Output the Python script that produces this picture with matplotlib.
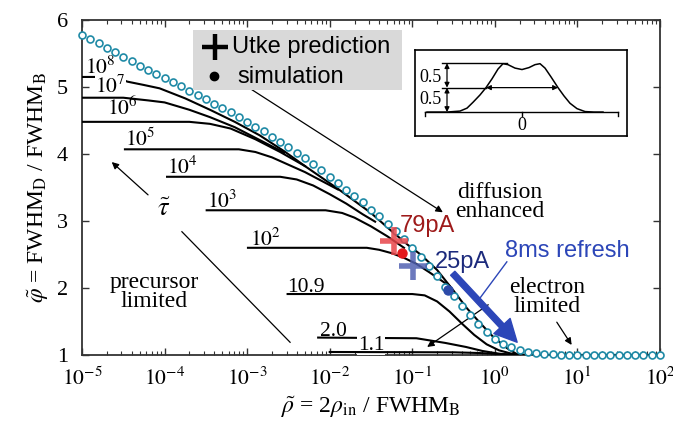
import numpy as np
import matplotlib
matplotlib.use("Agg")
import matplotlib.pyplot as plt
from matplotlib.patches import Rectangle
from matplotlib.ticker import FuncFormatter

plt.rcParams['font.family'] = ['Liberation Serif', 'DejaVu Serif']
plt.rcParams['mathtext.fontset'] = 'stix'

# ---- data (x given as log10 of rho) ----
# master curve (open circles), one point every 0.1 decade from 1e-5 to 1e2
circ_lx = np.round(np.arange(-5.0, 2.01, 0.1), 1)
circ_phi = [5.78, 5.71, 5.65, 5.58, 5.52, 5.45, 5.39, 5.32, 5.26, 5.19,
            5.13, 5.07, 5.01, 4.94, 4.88, 4.82, 4.75, 4.69, 4.62, 4.55,
            4.48, 4.41, 4.34, 4.26, 4.18, 4.10, 4.02, 3.94, 3.85, 3.76,
            3.66, 3.57, 3.47, 3.38, 3.28, 3.17, 3.07, 2.96, 2.85, 2.73,
            2.60, 2.47, 2.33, 2.18, 2.02, 1.88, 1.73, 1.59, 1.46, 1.34,
            1.24, 1.17, 1.12, 1.08, 1.05, 1.03, 1.02, 1.01, 1.00, 1.00,
            1.00, 1.00, 1.00, 1.00, 1.00, 1.00, 1.00, 1.00, 1.00, 1.00,
            1.00]

# tau curves (black)
t8_lx = [-5.0, -4.6, -4.45, -4.25, -4.06, -3.75, -3.45, -3.15, -2.85, -2.55,
         -2.3, -2.1, -1.9, -1.7, -1.5, -1.27, -1.05, -0.9, -0.7, -0.5,
         -0.34, -0.18, -0.02, 0.15, 0.27, 0.4, 2.0]
t8_phi = [5.15, 5.15, 5.08, 5.03, 4.98, 4.83, 4.66, 4.48, 4.28, 4.04,
          3.82, 3.65, 3.48, 3.30, 3.12, 2.87, 2.64, 2.50, 2.27, 1.96,
          1.70, 1.48, 1.27, 1.10, 1.01, 1.00, 1.00]
t7_lx = [-5.0, -4.5, -4.2, -4.0, -3.7, -3.45, -3.15, -2.85, -2.55]
t7_phi = [4.84, 4.84, 4.80, 4.77, 4.66, 4.55, 4.40, 4.21, 4.02]
t6_lx = [-5.0, -3.7, -3.45, -3.2, -2.9, -2.6, -2.3]
t6_phi = [4.48, 4.48, 4.45, 4.38, 4.22, 4.03, 3.82]
t5_lx = [-4.48, -3.1, -2.9, -2.7, -2.5, -2.3, -2.1, -1.9]
t5_phi = [4.07, 4.07, 4.03, 3.95, 3.84, 3.73, 3.60, 3.47]
t4_lx = [-3.97, -2.6, -2.4, -2.2, -2.0, -1.8, -1.6, -1.45]
t4_phi = [3.66, 3.66, 3.62, 3.53, 3.40, 3.26, 3.10, 2.99]
t3_lx = [-3.49, -2.05, -1.85, -1.7, -1.5, -1.3, -1.1]
t3_phi = [3.16, 3.16, 3.12, 3.05, 2.92, 2.77, 2.60]
t2_lx = [-2.99, -1.55, -1.4, -1.25, -1.1, -0.95, -0.8, -0.55]
t2_phi = [2.60, 2.60, 2.57, 2.52, 2.45, 2.36, 2.24, 2.03]
t109_lx = [-2.51, -1.0, -0.85, -0.7, -0.55, -0.4, -0.25, -0.1, 0.05, 0.2, 0.35]
t109_phi = [1.91, 1.91, 1.89, 1.80, 1.65, 1.47, 1.30, 1.16, 1.07, 1.02, 1.00]
t20_lx = [-2.14, -0.95, -0.8, -0.6, -0.35, -0.15, 0.05, 0.25]
t20_phi = [1.26, 1.25, 1.22, 1.18, 1.12, 1.06, 1.02, 1.00]
t11_lx = [-2.0, -0.5, -0.2, 0.1, 0.3]
t11_phi = [1.045, 1.04, 1.03, 1.01, 1.00]

tau_labels = [r'$10^8$', r'$10^7$', r'$10^6$', r'$10^5$', r'$10^4$',
              r'$10^3$', r'$10^2$', '10.9', '2.0', '1.1']
tau_label_lx = [-4.96, -4.84, -4.70, -4.48, -3.97, -3.49, -2.97, -2.51, -2.12, -1.66]
tau_label_phi = [5.20, 4.91, 4.58, 4.12, 3.70, 3.20, 2.63, 1.94, 1.29, 1.075]
tau_label_masked = [False, True, False, False, False, False, False, False, False, True]

# measured points
cross_lx = [-1.22, -0.99]
cross_phi = [2.70, 2.33]
dot_lx = [-1.12, -0.57]
dot_phi = [2.52, 1.97]
cross_colors = ['#e8454a', '#5262b2']
dot_colors = ['#e31a1c', '#2c4aa8']

# inset beam profile
prof_x = [-0.95, -0.75, -0.62, -0.55, -0.49, -0.42, -0.36, -0.30, -0.24, -0.19,
          -0.14, -0.07, 0.0, 0.07, 0.13, 0.18, 0.23, 0.29, 0.36, 0.42,
          0.48, 0.55, 0.63, 0.72, 0.81]
prof_y = [0.0, 0.0, 0.02, 0.08, 0.20, 0.35, 0.50, 0.68, 0.88, 0.99,
          0.97, 0.90, 0.87, 0.91, 0.97, 0.99, 0.90, 0.72, 0.50, 0.33,
          0.18, 0.07, 0.01, 0.0, 0.0]

# ---- figure ----
fig = plt.figure(figsize=(6.73, 4.24), dpi=100)
ax = fig.add_axes([82 / 673, 69 / 424, 578 / 673, 335 / 424])
ax.set_xscale('log')

# 10^8 and 2.0 curves run under a label (10^7 / 1.1) -> draw them below the label boxes
curves = [(t8_lx, t8_phi, 3), (t7_lx, t7_phi, 4.5), (t6_lx, t6_phi, 4.5),
          (t5_lx, t5_phi, 4.5), (t4_lx, t4_phi, 4.5), (t3_lx, t3_phi, 4.5),
          (t2_lx, t2_phi, 4.5), (t109_lx, t109_phi, 4.5), (t20_lx, t20_phi, 3),
          (t11_lx, t11_phi, 4.5)]
for lx, ph, z in curves:
    ax.plot(10 ** np.array(lx), ph, color='k', lw=1.5, zorder=z)

for lab, lx, ph, m in zip(tau_labels, tau_label_lx, tau_label_phi, tau_label_masked):
    bb = dict(facecolor='white', edgecolor='none', pad=0.3) if m else None
    ax.text(10 ** lx, ph, lab, fontsize=15.5, ha='left', va='baseline', zorder=4,
            bbox=bb)

ax.plot(10 ** circ_lx, circ_phi, 'o', ms=5, mfc='white', mec='#1f8aa6',
        mew=1.2, ls='none', zorder=5, clip_on=False)

for lx, ph, c in zip(cross_lx, cross_phi, cross_colors):
    ax.plot(10 ** lx, ph, '+', ms=20, mew=4, color=c, alpha=0.85, zorder=6)
for lx, ph, c in zip(dot_lx, dot_phi, dot_colors):
    ax.plot(10 ** lx, ph, 'o', ms=6.5, color=c, zorder=7)

# annotations
arr = dict(arrowstyle='-|>', color='k', lw=0.9, mutation_scale=10, shrinkA=0, shrinkB=0)
ax.annotate('', xy=(10 ** -4.64, 3.88), xytext=(10 ** -4.20, 3.39), arrowprops=arr)
ax.plot([10 ** -3.79, 10 ** -2.48], [2.84, 1.19], color='k', lw=0.9)
ax.text(10 ** -4.01, 3.16, r'$\tilde{\tau}$', fontsize=19, ha='center', va='center')
ax.annotate('', xy=(10 ** -0.63, 3.13), xytext=(10 ** -3.12, 5.10), arrowprops=arr)
ax.annotate('', xy=(10 ** -0.82, 1.12), xytext=(10 ** -0.08, 1.75), arrowprops=arr)
ax.annotate('', xy=(10 ** 0.93, 1.15), xytext=(10 ** 0.75, 1.49), arrowprops=arr)

ax.text(10 ** 0.06, 3.28, 'diffusion\nenhanced', fontsize=17, ha='center',
        va='center', linespacing=0.9)
ax.text(10 ** -4.13, 1.94, 'precursor\nlimited', fontsize=17, ha='center',
        va='center', linespacing=0.9)
ax.text(10 ** 0.63, 1.87, 'electron\nlimited', fontsize=17, ha='center',
        va='center', linespacing=0.9)

sans = 'Liberation Sans'
ax.text(10 ** -1.15, 2.93, '79pA', fontsize=17, family=sans, color='#9e1a1a',
        ha='left', va='center', zorder=8)
ax.text(10 ** -0.73, 2.39, '25pA', fontsize=17, family=sans, color='#1c2a7c',
        ha='left', va='center', zorder=8)
ax.text(10 ** 0.12, 2.55, '8ms refresh', fontsize=17, family=sans,
        color='#2c46b8', ha='left', va='center', zorder=8)
ax.plot([10 ** 0.145, 10 ** -0.18], [2.39, 1.85], color='#2c46b8', lw=1.0, zorder=8)
ax.annotate('', xy=(10 ** 0.27, 1.19), xytext=(10 ** -0.51, 2.22),
            arrowprops=dict(width=4.2, headwidth=16, headlength=16,
                            facecolor='#2c46b8', edgecolor='#2c46b8', shrink=0),
            zorder=8)

# legend box
ax.add_patch(Rectangle((0.192, 0.791), 0.362, 0.179, transform=ax.transAxes,
                       facecolor='#d9d9d9', edgecolor='none', zorder=6))
ax.plot(0.230, 0.919, '+', ms=19, mew=3.2, color='k', transform=ax.transAxes, zorder=7)
ax.plot(0.228, 0.833, 'o', ms=6, color='k', transform=ax.transAxes, zorder=7)
ax.text(0.2595, 0.919, 'Utke prediction', fontsize=17, family=sans,
        transform=ax.transAxes, va='center', ha='left', zorder=7)
ax.text(0.268, 0.830, 'simulation', fontsize=17, family=sans,
        transform=ax.transAxes, va='center', ha='left', zorder=7)

ax.set_xlim(1e-5, 1e2)
ax.set_ylim(1, 6)
ax.set_yticks([1, 2, 3, 4, 5, 6])
ax.xaxis.set_major_formatter(FuncFormatter(lambda v, p: r'$10^{%d}$' % round(np.log10(v))))
ax.yaxis.set_major_formatter(FuncFormatter(lambda v, p: '%d' % v))
ax.tick_params(which='both', direction='in', top=True, right=True,
               labelsize=16, color='#333333')
ax.tick_params(axis='x', labelsize=15.5)
ax.tick_params(which='major', length=5, width=1.0)
ax.tick_params(axis='x', which='major', pad=9)
ax.tick_params(axis='y', which='major', pad=10)
ax.tick_params(which='minor', length=3, width=0.8)
for sp in ax.spines.values():
    sp.set_color('#333333')
    sp.set_linewidth(1.3)

ax.set_xlabel(r'$\tilde{\rho}$ = 2$\rho_{\rm in}$ / FWHM$_{\rm B}$', fontsize=17, labelpad=3)
ax.set_ylabel(r'$\tilde{\varphi}$ = FWHM$_{\rm D}$ / FWHM$_{\rm B}$', fontsize=17, labelpad=4)

# ---- inset ----
ins = fig.add_axes([415 / 673, 288 / 424, 212 / 673, 86 / 424])
ins.set_xlim(-1.07, 1.05)
ins.set_ylim(-0.49, 1.27)
ins.set_xticks([])
ins.set_yticks([])
for sp in ins.spines.values():
    sp.set_linewidth(1.2)
ins.plot(prof_x, prof_y, color='k', lw=1.1)
ins.plot([-0.97, 0.96], [0, 0], color='k', lw=1.0)
for tx in [-0.97, 0.0, 0.96]:
    ins.plot([tx, tx], [0, -0.08], color='k', lw=1.0)
ins.text(0.0, -0.27, '0', fontsize=13, ha='center', va='center')
ins.plot([-0.80, -0.15], [1.0, 1.0], color='k', lw=1.0)
ins.plot([-0.80, -0.36], [0.5, 0.5], color='k', lw=1.0)
small = dict(arrowstyle='<|-|>', color='k', lw=0.9, mutation_scale=7, shrinkA=0, shrinkB=0)
ins.annotate('', xy=(-0.36, 0.5), xytext=(0.36, 0.5), arrowprops=small)
ins.annotate('', xy=(-0.75, 0.0), xytext=(-0.75, 0.5), arrowprops=small)
ins.annotate('', xy=(-0.75, 0.5), xytext=(-0.75, 1.0), arrowprops=small)
ins.text(-0.92, 0.71, '0.5', fontsize=13, ha='center', va='center')
ins.text(-0.92, 0.25, '0.5', fontsize=13, ha='center', va='center')

fig.savefig('out.png', dpi=100)
